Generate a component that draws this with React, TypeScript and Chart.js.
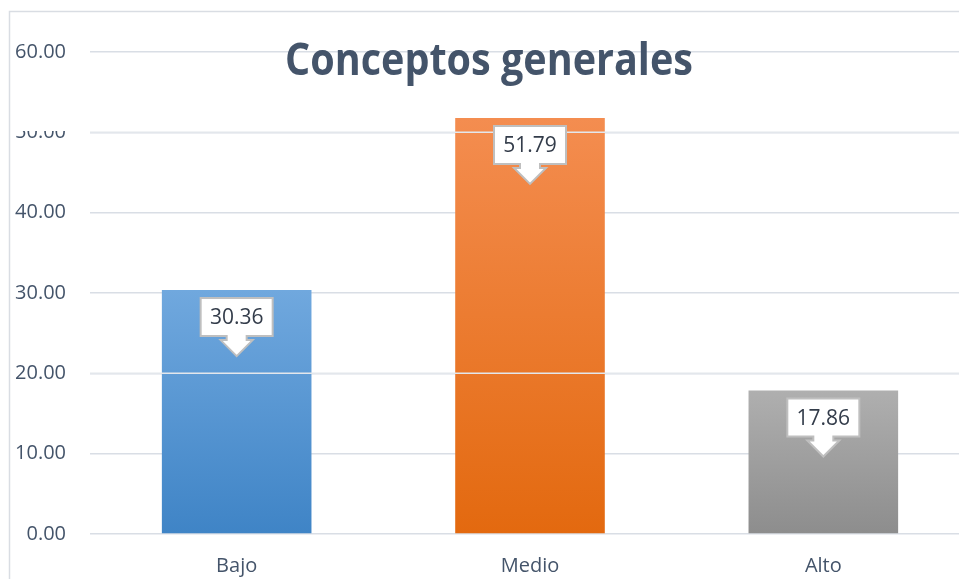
import React, { useEffect, useRef } from "react";
import { Chart, registerables } from "chart.js";

Chart.register(...registerables);

const categories = ["Bajo", "Medio", "Alto"];
const values = [30.36, 51.79, 17.86];
const yMin = 0;
const yMax = 60;
const yStep = 10;
const overlayGridValues = [20, 50];
const titleText = "Conceptos generales";
const topColors = ["#70A8DE", "#F48D50", "#AFAFAF"];
const bottomColors = ["#3F84C6", "#E3690F", "#8D8D8D"];

const GRID = "#D9DEE5";
const TEXT = "#44546A";

function drawCallout(ctx: CanvasRenderingContext2D, cx: number, top: number, text: string) {
  const w = 72, h = 38, neckHalf = 10, headHalf = 16, neckH = 4, headH = 16;
  ctx.save();
  ctx.beginPath();
  ctx.moveTo(cx - w / 2, top);
  ctx.lineTo(cx + w / 2, top);
  ctx.lineTo(cx + w / 2, top + h);
  ctx.lineTo(cx + neckHalf, top + h);
  ctx.lineTo(cx + neckHalf, top + h + neckH);
  ctx.lineTo(cx + headHalf, top + h + neckH);
  ctx.lineTo(cx, top + h + neckH + headH);
  ctx.lineTo(cx - headHalf, top + h + neckH);
  ctx.lineTo(cx - neckHalf, top + h + neckH);
  ctx.lineTo(cx - neckHalf, top + h);
  ctx.lineTo(cx - w / 2, top + h);
  ctx.closePath();
  ctx.fillStyle = "#FFFFFF";
  ctx.fill();
  ctx.strokeStyle = "#BFBFBF";
  ctx.lineWidth = 2;
  ctx.lineJoin = "miter";
  ctx.stroke();
  ctx.fillStyle = "#333C4A";
  ctx.font = '21px "Open Sans"';
  ctx.textAlign = "center";
  ctx.textBaseline = "middle";
  ctx.fillText(text, cx, top + h / 2 + 1);
  ctx.restore();
}

const decorPlugin = {
  id: "decor",
  beforeDraw(chart: any) {
    const ctx = chart.ctx as CanvasRenderingContext2D;
    ctx.save();
    ctx.fillStyle = "#FFFFFF";
    ctx.fillRect(0, 0, chart.width, chart.height);
    ctx.strokeStyle = "#D9DDE3";
    ctx.lineWidth = 1.5;
    ctx.beginPath();
    ctx.moveTo(9.5, chart.height + 5);
    ctx.lineTo(9.5, 11.5);
    ctx.lineTo(chart.width + 5, 11.5);
    ctx.stroke();
    ctx.restore();
  },
  afterDatasetsDraw(chart: any) {
    const ctx = chart.ctx as CanvasRenderingContext2D;
    const area = chart.chartArea;
    const y = chart.scales.y;
    ctx.save();
    ctx.strokeStyle = "#E3E7EC";
    ctx.lineWidth = 1.5;
    overlayGridValues.forEach((v) => {
      const py = y.getPixelForValue(v);
      ctx.beginPath();
      ctx.moveTo(area.left, py);
      ctx.lineTo(area.right, py);
      ctx.stroke();
    });
    ctx.restore();
    const meta = chart.getDatasetMeta(0);
    meta.data.forEach((bar: any, i: number) => {
      drawCallout(ctx, bar.x, bar.y + 8, values[i].toFixed(2));
    });
  },
  afterDraw(chart: any) {
    const ctx = chart.ctx as CanvasRenderingContext2D;
    ctx.save();
    let size = 40;
    ctx.font = `bold ${size}px "Open Sans"`;
    const target = 408;
    const wMeasured = ctx.measureText(titleText).width;
    size = size * target / wMeasured;
    ctx.font = `bold ${size}px "Open Sans"`;
    ctx.fillStyle = TEXT;
    ctx.textAlign = "center";
    ctx.textBaseline = "alphabetic";
    ctx.translate(489, 75);
    ctx.scale(1, 1.15);
    ctx.fillText(titleText, 0, 0);
    ctx.restore();
    ctx.save();
    ctx.fillStyle = "#FFFFFF";
    ctx.fillRect(11, 112, 70, 19);
    ctx.restore();
  },
};

export default function App() {
  const ref = useRef<HTMLCanvasElement | null>(null);
  useEffect(() => {
    if (!ref.current) return;
    const chart = new Chart(ref.current, {
      type: "bar",
      data: {
        labels: categories,
        datasets: [
          {
            data: values,
            backgroundColor: (c: any) => {
              const ch = c.chart;
              const i = c.dataIndex;
              const area = ch.chartArea;
              if (!area || i === undefined) return topColors[i ?? 0];
              const ys = ch.scales.y;
              const top = ys.getPixelForValue(values[i]);
              const g = ch.ctx.createLinearGradient(0, top, 0, area.bottom);
              g.addColorStop(0, topColors[i]);
              g.addColorStop(1, bottomColors[i]);
              return g;
            },
            borderWidth: 0,
            barPercentage: 0.51,
            categoryPercentage: 1,
          },
        ],
      },
      options: {
        responsive: false,
        animation: false,
        devicePixelRatio: 1,
        layout: { padding: { top: 52, left: 0, right: 0, bottom: 0 } },
        plugins: {
          legend: { display: false },
          title: { display: false },
          tooltip: { enabled: false },
        },
        scales: {
          x: {
            grid: { display: false },
            border: { display: false },
            ticks: {
              color: TEXT,
              font: { family: '"Open Sans"', size: 20 },
              padding: 12,
            },
            afterFit: (s: any) => {
              s.height = 45;
            },
          },
          y: {
            min: yMin,
            max: yMax,
            grid: { color: GRID, lineWidth: 1.5, drawTicks: false },
            border: { display: false },
            ticks: {
              stepSize: yStep,
              color: TEXT,
              font: { family: '"Open Sans"', size: 20 },
              padding: 24,
              callback: (v: any) => Number(v).toFixed(2),
            },
            afterFit: (s: any) => {
              s.width = 90;
            },
          },
        },
      },
      plugins: [decorPlugin],
    });
    return () => chart.destroy();
  }, []);
  return (
    <div
      style={{
        position: "fixed",
        left: 0,
        top: 0,
        width: 959,
        height: 579,
        overflow: "hidden",
        background: "#fff",
      }}
    >
      <canvas ref={ref} width={970} height={579} style={{ display: "block", width: 970, height: 579 }} />
    </div>
  );
}
